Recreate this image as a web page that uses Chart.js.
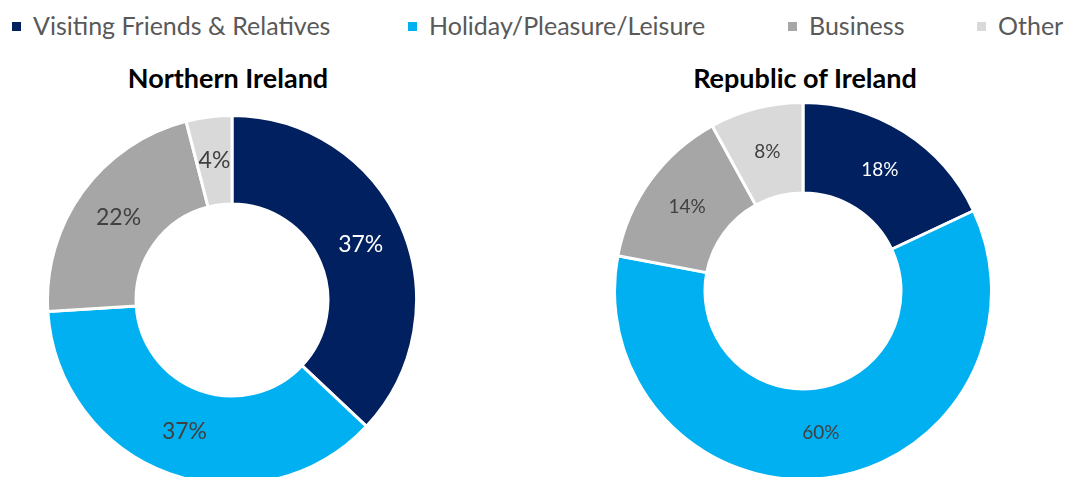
<!DOCTYPE html>
<html>
<head>
<meta charset="utf-8">
<script src="https://cdn.jsdelivr.net/npm/chart.js@4/dist/chart.umd.min.js"></script>
<style>
  html, body { margin: 0; padding: 0; width: 1066px; height: 477px; overflow: hidden; background: #fff; font-family: Lato, "Open Sans", sans-serif; }
  #legend { position: absolute; top: 8px; left: 0; width: 1066px; height: 34px; }
  .item { position: absolute; top: 0; font-size: 25px; color: #595959; line-height: 34px; white-space: nowrap; }
  .item i { display: inline-block; width: 9px; height: 9px; margin-right: 12px; vertical-align: 4px; }
  .ttl { position: absolute; top: 61px; font-size: 27px; font-weight: bold; color: #000; text-align: center; width: 400px; }
  canvas { position: absolute; }
</style>
</head>
<body>
<div id="legend"></div>
<div class="ttl" id="t1" style="left:28px"></div>
<div class="ttl" id="t2" style="left:605px"></div>
<canvas id="chartNI" width="372" height="372" style="left:46px;top:114px;width:372px;height:372px"></canvas>
<canvas id="chartROI" width="380" height="380" style="left:613px;top:101px;width:380px;height:380px"></canvas>
<script>
var categorias = ['Visiting Friends & Relatives', 'Holiday/Pleasure/Leisure', 'Business', 'Other'];
var cores = ['#002060', '#00B0F0', '#A6A6A6', '#D9D9D9'];
var corTexto = ['#ffffff', '#404040', '#404040', '#404040'];
var titulos = ['Northern Ireland', 'Republic of Ireland'];
var valoresNI = [37, 37, 22, 4];
var valoresROI = [18, 60, 14, 8];

// legenda
var posLegenda = [12, 408, 788, 977];
var html = '';
for (var i in categorias) {
    html += '<div class="item" style="left:' + posLegenda[i] + 'px"><i style="background:' + cores[i] + '"></i>' + categorias[i] + '</div>';
}
document.getElementById('legend').innerHTML = html;
document.getElementById('t1').textContent = titulos[0];
document.getElementById('t2').textContent = titulos[1];

// rotulos de porcentagem dentro das fatias
var rotulos = {
    id: 'rotulos',
    afterDatasetsDraw: function (chart, args, opts) {
        var ctx = chart.ctx;
        var meta = chart.getDatasetMeta(0);
        var dados = chart.data.datasets[0].data;
        ctx.save();
        ctx.font = opts.size + 'px Lato, "Open Sans", sans-serif';
        ctx.textAlign = 'center';
        ctx.textBaseline = 'middle';
        meta.data.forEach(function (arc, i) {
            var p = arc.tooltipPosition();
            ctx.fillStyle = corTexto[i];
            ctx.fillText(dados[i] + '%', p.x, p.y);
        });
        ctx.restore();
    }
};

function criaGrafico(id, valores, tamanho) {
    var ctx = document.getElementById(id).getContext('2d');
    return new Chart(ctx, {
        type: 'doughnut',
        data: {
            labels: categorias,
            datasets: [{
                data: valores,
                backgroundColor: cores,
                borderColor: '#ffffff',
                borderWidth: 3
            }]
        },
        options: {
            responsive: false,
            animation: false,
            cutout: '52%',
            layout: { padding: 0 },
            plugins: {
                legend: { display: false },
                tooltip: { enabled: false },
                rotulos: { size: tamanho }
            }
        },
        plugins: [rotulos]
    });
}

var graficoNI = criaGrafico('chartNI', valoresNI, 23);
var graficoROI = criaGrafico('chartROI', valoresROI, 19);
</script>
</body>
</html>
